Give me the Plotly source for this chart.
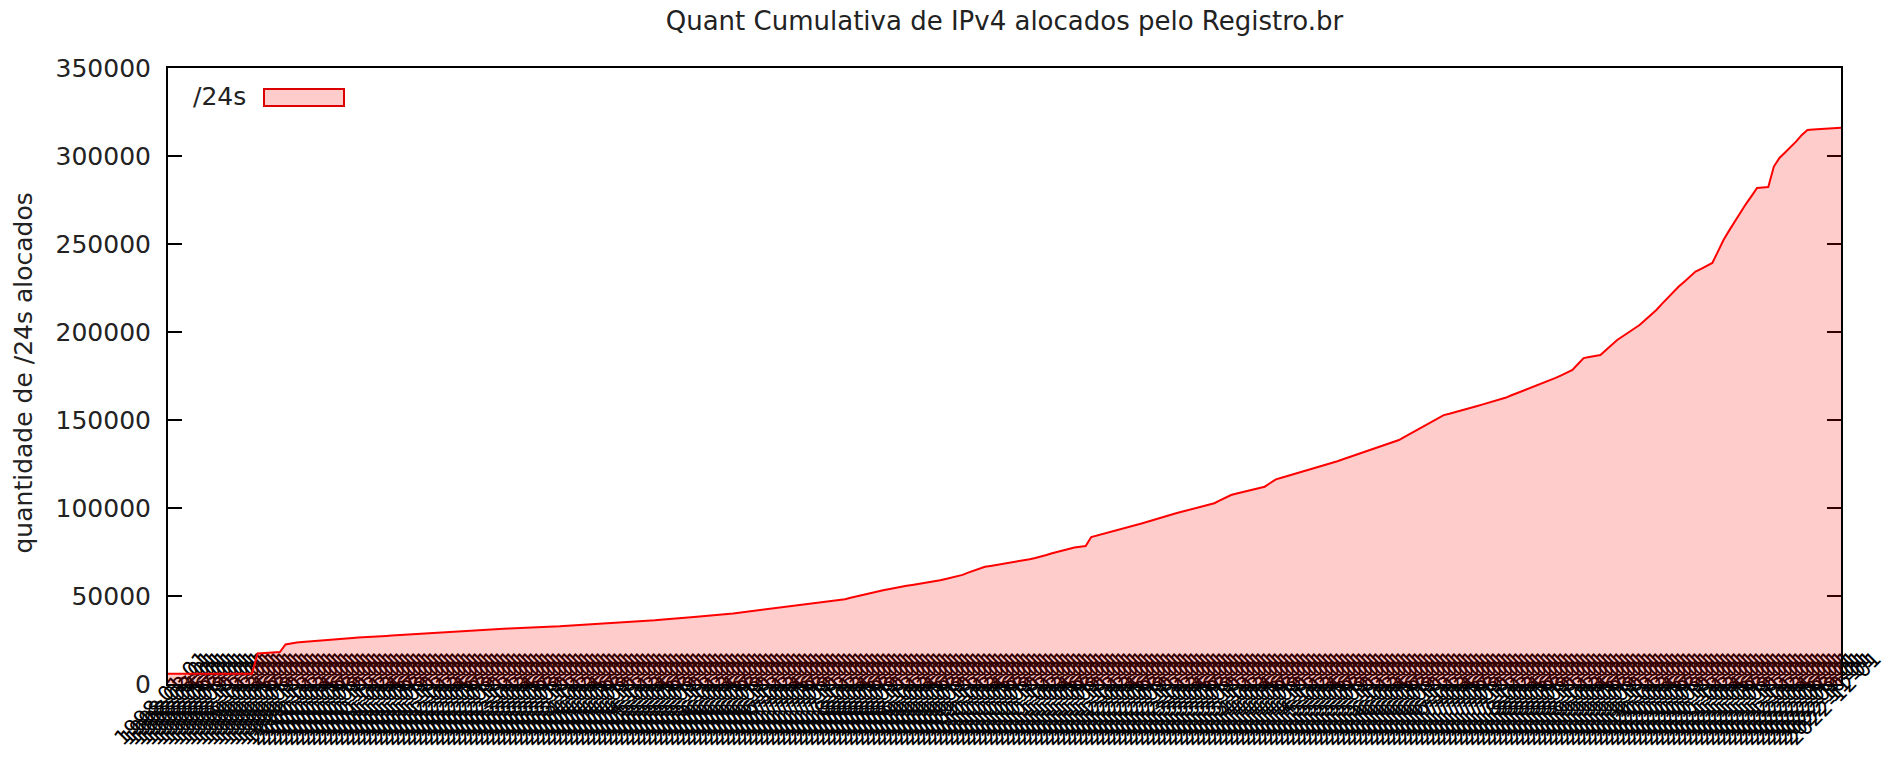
import plotly.graph_objects as go
import pandas as pd

# cumulative /24s allocated
values = [
    5800, 5800, 5800, 5810, 5810, 5820, 5820, 5820, 5830, 5830, 5840, 5840, 5850, 5850, 5850, 5860,
    17400, 17500, 17600, 17700, 18200,
    22500, 23200, 23600, 23900, 24200,
    24500, 24700, 24900, 25000, 25300, 25600, 25900, 26200, 26400,
    26500, 26700, 26800, 27000, 27300, 27500, 27700, 27900, 28100, 28300, 28500,
    28700, 29000, 29300, 29500, 29700, 29900, 30100, 30300, 30500, 30800, 31000,
    31100, 31200, 31300, 31400, 31500, 31700, 31800, 31900, 32100, 32300, 32500,
    32600, 32700, 32800, 33000, 33100, 33200, 33400, 33500, 33700, 33900, 34000,
    34200, 34400, 34600, 34800, 35100, 35400, 35700, 35900, 36200, 36500,
    36700, 37000, 37300, 37500, 37800, 38100, 38400, 38600, 38900, 39200, 39500,
    39800, 40100, 40500, 40800, 41100, 41500, 41900, 42300, 42600, 43000, 43500,
    43900, 44300, 44700, 45100, 45500, 45900, 46300, 46600, 47000, 47500,
    48200, 49000, 49800, 50600, 51300, 52000, 52700, 53400, 54000, 54700, 55300,
    55800, 56300, 56800, 57300, 57700, 58100,
    58900, 59700, 60400, 61200, 62000,
    63300, 64500, 65600, 66600,
    67100, 67600, 68100, 68600, 69100, 69500,
    70200, 70900, 71600, 72300,
    73300, 74300, 75200, 76200, 77100,
    77600, 78000, 78400,
    83500,
    84300, 85100, 85900, 86700, 87500, 88400, 89400,
    90300, 91200, 92200, 93200, 94200, 95100,
    96000, 96900, 97700, 98500, 99300, 100200, 101100, 101900, 102700,
    104300, 105900, 107400,
    108200, 109000, 109800, 110600, 111300, 112100,
    114200, 116300,
    117200, 118100, 119000, 119900, 120800, 121700, 122600, 123600, 124500, 125500,
    126600, 127700, 128800, 129800, 130900, 132000,
    133100, 134200, 135300, 136400, 137500, 138600,
    140400, 142200, 144000, 145800, 147600, 149300, 151000, 152800,
    153600, 154400, 155300, 156200, 157100, 158000, 158900, 159800, 160600, 161400,
    162600, 163900, 165100, 166400, 167600, 168800, 170100, 171300, 172600, 173900,
    175400, 176900, 178400,
    181800, 185200,
    185800, 186300, 186900,
    189800, 192600, 195500,
    197600, 199700, 201800, 204000,
    206800, 209600, 212500,
    216000, 219400, 222900,
    225800, 228600, 231500, 234300,
    235900, 237500, 239200,
    245700, 252300,
    257600, 262900, 268200,
    272700, 277200, 281800,
    282100, 282400,
    294000, 298900,
    302000, 305100,
    308300, 312000, 314800,
    315000, 315200, 315400, 315600, 315800, 316000,
]

N = len(values)
# category labels (allocation dates, unreadable in the reference; monthly guess)
categories = list(pd.date_range("1998-01-01", periods=N, freq="MS").strftime("%Y-%m-%d"))

y_ticks = [0, 50000, 100000, 150000, 200000, 250000, 300000, 350000]
title_text = "Quant Cumulativa de IPv4 alocados pelo Registro.br"
y_title = "quantidade de /24s alocados"
series_name = "/24s"

FONT = "DejaVu Sans"
W, H = 1890, 758
L, R, T, B = 168, 1841, 68, 684
PW, PH = R - L, B - T


def px(xp):
    return (xp - L) / PW


def py(yp):
    return (B - yp) / PH


fig = go.Figure()
fig.add_trace(go.Scatter(
    x=categories, y=values, mode="lines", name=series_name,
    line=dict(color="#ff0000", width=2),
    fill="tozeroy", fillcolor="rgba(255,0,0,0.2)",
))

fig.update_layout(
    width=W, height=H, autosize=False,
    margin=dict(l=L, r=W - R, t=T, b=H - B, pad=0, autoexpand=False),
    plot_bgcolor="white", paper_bgcolor="white",
    showlegend=False,
    font=dict(family=FONT, size=25, color="#222222"),
    title=dict(text=title_text, x=px((L + R) / 2), xref="paper", xanchor="center",
               y=1 - 21 / H, yref="container", yanchor="middle",
               font=dict(family=FONT, size=26, color="#222222")),
    xaxis=dict(
        type="category", range=[0, N - 1], automargin=False,
        tickmode="array", tickvals=categories, ticktext=categories,
        tickangle=-45, ticks="", showgrid=False, zeroline=False,
        showline=True, mirror=True, linecolor="black", linewidth=2,
        layer="below traces",
        ticklabelstandoff=-48, ticklabelshift=34, ticklabeloverflow="allow",
        tickfont=dict(family=FONT, size=21, color="black"),
    ),
    yaxis=dict(
        range=[0, 350000], tickmode="array", tickvals=y_ticks, automargin=False,
        ticktext=[str(v) for v in y_ticks],
        ticks="inside", ticklen=14, tickwidth=2, tickcolor="black",
        showline=True, mirror="ticks", linecolor="black", linewidth=2,
        showgrid=False, zeroline=False, layer="below traces",
        ticklabelstandoff=10,
        tickfont=dict(family=FONT, size=25, color="#222222"),
    ),
)

fig.add_annotation(text=y_title, x=px(23), y=py((187 + 560) / 2), xref="paper", yref="paper",
                   textangle=-90, showarrow=False, xanchor="center", yanchor="middle",
                   font=dict(family=FONT, size=25, color="#222222"))

# key
fig.add_annotation(text=series_name, x=px(248), y=py(97), xref="paper", yref="paper",
                   showarrow=False, xanchor="right", yanchor="middle",
                   font=dict(family=FONT, size=25, color="#222222"))
fig.add_shape(type="rect", xref="paper", yref="paper",
              x0=px(264), x1=px(344), y0=py(106), y1=py(89),
              fillcolor="#ffcccc", line=dict(color="#dd0000", width=2))

fig.write_html("out.html", config={"displayModeBar": False},
               post_script="document.body.style.margin='0';document.body.style.overflow='hidden';")
